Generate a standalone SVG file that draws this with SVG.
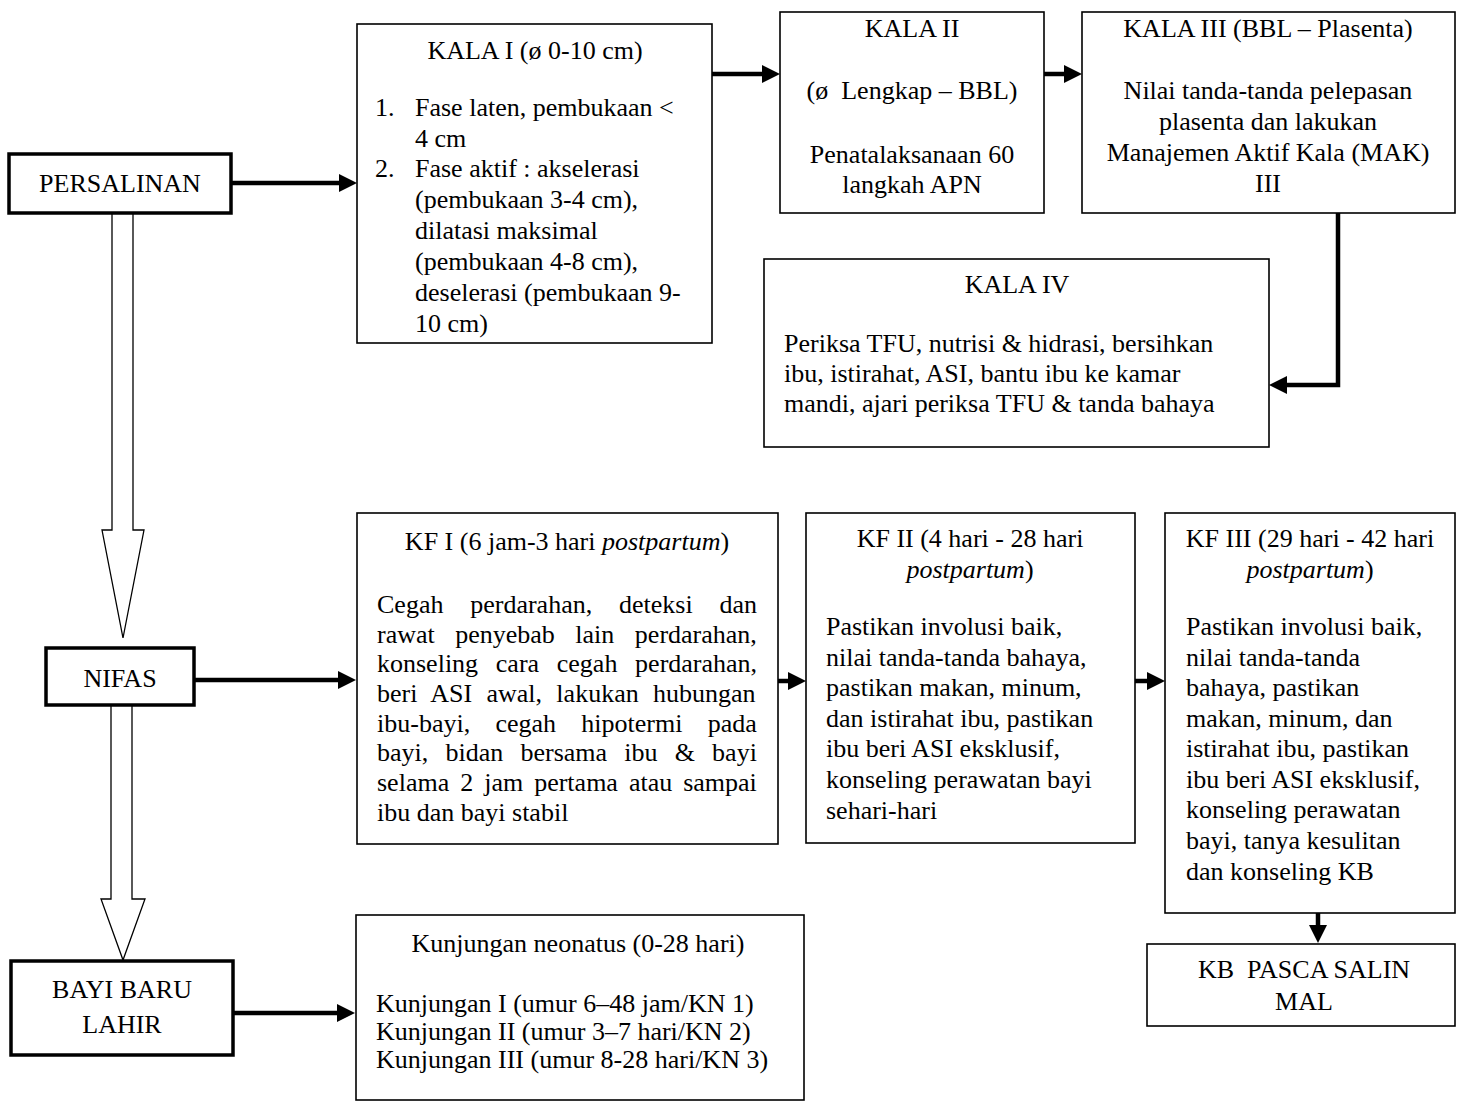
<svg xmlns="http://www.w3.org/2000/svg" width="1459" height="1104" viewBox="0 0 1459 1104">
<defs>
<style>
text { font-family: "Liberation Serif", "Times New Roman", serif; font-size: 26px; fill: #000; }
.c { text-anchor: middle; }
.pre { white-space: pre; }
.it { font-style: italic; }
.box { fill: #fff; stroke: #000; stroke-width: 1.6; }
.tbox { fill: #fff; stroke: #000; stroke-width: 3.5; }
.conn { fill: none; stroke: #000; stroke-width: 4.5; }
.hollow { fill: #fff; stroke: #000; stroke-width: 1.3; stroke-linejoin: miter; }
</style>
<marker id="ah" markerUnits="userSpaceOnUse" markerWidth="18" markerHeight="18" viewBox="0 0 18 18" refX="1" refY="9" orient="auto">
<path d="M0,0 L18,9 L0,18 z" fill="#000"/>
</marker>
</defs>
<rect x="0" y="0" width="1459" height="1104" fill="#fff"/>

<g id="connectors">
<polygon class="hollow" points="112,212 133,212 133,530 144,530 123,638 102,530 112,530"/>
<polygon class="hollow" points="111,704 132,704 132,899 145,899 123,960 101,899 111,899"/>
<line class="conn" x1="231" y1="183" x2="340" y2="183" marker-end="url(#ah)"/>
<line class="conn" x1="712" y1="74" x2="763" y2="74" marker-end="url(#ah)"/>
<line class="conn" x1="1044" y1="74" x2="1065" y2="74" marker-end="url(#ah)"/>
<path class="conn" d="M1338,213 V385 H1286" marker-end="url(#ah)"/>
<line class="conn" x1="194" y1="680" x2="339" y2="680" marker-end="url(#ah)"/>
<line class="conn" x1="778" y1="681" x2="789" y2="681" marker-end="url(#ah)"/>
<line class="conn" x1="1135" y1="681" x2="1148" y2="681" marker-end="url(#ah)"/>
<line class="conn" x1="1318" y1="913" x2="1318" y2="926" marker-end="url(#ah)"/>
<line class="conn" x1="233" y1="1013" x2="338" y2="1013" marker-end="url(#ah)"/>
</g>

<g id="persalinan">
<rect class="tbox" x="9" y="154" width="222" height="59"/>
<text class="c" x="120" y="192">PERSALINAN</text>
</g>

<g id="kala1">
<rect class="box" x="357" y="24" width="355" height="319"/>
<text class="c" x="535" y="59">KALA I (ø 0-10 cm)</text>
<text x="375" y="116">1.</text>
<text x="415" y="116">Fase laten, pembukaan &lt;</text>
<text x="415" y="147">4 cm</text>
<text x="375" y="177">2.</text>
<text x="415" y="177">Fase aktif : akselerasi</text>
<text x="415" y="208">(pembukaan 3-4 cm),</text>
<text x="415" y="239">dilatasi maksimal</text>
<text x="415" y="270">(pembukaan 4-8 cm),</text>
<text x="415" y="301">deselerasi (pembukaan 9-</text>
<text x="415" y="332">10 cm)</text>
</g>

<g id="kala2">
<rect class="box" x="780" y="12" width="264" height="201"/>
<text class="c" x="912" y="37">KALA II</text>
<text class="c pre" x="912" y="99">(ø  Lengkap – BBL)</text>
<text class="c" x="912" y="163">Penatalaksanaan 60</text>
<text class="c" x="912" y="193">langkah APN</text>
</g>

<g id="kala3">
<rect class="box" x="1082" y="12" width="373" height="201"/>
<text class="c" x="1268" y="37">KALA III (BBL – Plasenta)</text>
<text class="c" x="1268" y="99">Nilai tanda-tanda pelepasan</text>
<text class="c" x="1268" y="130">plasenta dan lakukan</text>
<text class="c" x="1268" y="161">Manajemen Aktif Kala (MAK)</text>
<text class="c" x="1268" y="192">III</text>
</g>

<g id="kala4">
<rect class="box" x="764" y="259" width="505" height="188"/>
<text class="c" x="1017" y="293">KALA IV</text>
<text x="784" y="352">Periksa TFU, nutrisi &amp; hidrasi, bersihkan</text>
<text x="784" y="382">ibu, istirahat, ASI, bantu ibu ke kamar</text>
<text x="784" y="412">mandi, ajari periksa TFU &amp; tanda bahaya</text>
</g>

<g id="nifas">
<rect class="tbox" x="46" y="648" width="148" height="57"/>
<text class="c" x="120" y="687">NIFAS</text>
</g>

<g id="kf1">
<rect class="box" x="357" y="513" width="421" height="331"/>
<text class="c" x="567" y="550">KF I (6 jam-3 hari <tspan class="it">postpartum</tspan>)</text>
<text x="377" y="613" word-spacing="20.3">Cegah perdarahan, deteksi dan</text>
<text x="377" y="643" word-spacing="14">rawat penyebab lain perdarahan,</text>
<text x="377" y="672" word-spacing="11.2">konseling cara cegah perdarahan,</text>
<text x="377" y="702" word-spacing="7.8">beri ASI awal, lakukan hubungan</text>
<text x="377" y="732" word-spacing="18.8">ibu-bayi, cegah hipotermi pada</text>
<text x="377" y="761" word-spacing="10.7">bayi, bidan bersama ibu &amp; bayi</text>
<text x="377" y="791" word-spacing="4.5">selama 2 jam pertama atau sampai</text>
<text x="377" y="821">ibu dan bayi stabil</text>
</g>

<g id="kf2">
<rect class="box" x="806" y="513" width="329" height="330"/>
<text class="c" x="970" y="547">KF II (4 hari - 28 hari</text>
<text class="c" x="970" y="578"><tspan class="it">postpartum</tspan>)</text>
<text x="826" y="635">Pastikan involusi baik,</text>
<text x="826" y="666">nilai tanda-tanda bahaya,</text>
<text x="826" y="696">pastikan makan, minum,</text>
<text x="826" y="727">dan istirahat ibu, pastikan</text>
<text x="826" y="757">ibu beri ASI eksklusif,</text>
<text x="826" y="788">konseling perawatan bayi</text>
<text x="826" y="819">sehari-hari</text>
</g>

<g id="kf3">
<rect class="box" x="1165" y="513" width="290" height="400"/>
<text class="c" x="1310" y="547">KF III (29 hari - 42 hari</text>
<text class="c" x="1310" y="578"><tspan class="it">postpartum</tspan>)</text>
<text x="1186" y="635">Pastikan involusi baik,</text>
<text x="1186" y="666">nilai tanda-tanda</text>
<text x="1186" y="696">bahaya, pastikan</text>
<text x="1186" y="727">makan, minum, dan</text>
<text x="1186" y="757">istirahat ibu, pastikan</text>
<text x="1186" y="788">ibu beri ASI eksklusif,</text>
<text x="1186" y="818">konseling perawatan</text>
<text x="1186" y="849">bayi, tanya kesulitan</text>
<text x="1186" y="880">dan konseling KB</text>
</g>

<g id="kb">
<rect class="box" x="1147" y="944" width="308" height="82"/>
<text class="c pre" x="1304" y="978">KB  PASCA SALIN</text>
<text class="c" x="1304" y="1010">MAL</text>
</g>

<g id="bbl">
<rect class="tbox" x="11" y="961" width="222" height="94"/>
<text class="c" x="122" y="998">BAYI BARU</text>
<text class="c" x="122" y="1033">LAHIR</text>
</g>

<g id="neonatus">
<rect class="box" x="356" y="915" width="448" height="185"/>
<text class="c" x="578" y="952">Kunjungan neonatus (0-28 hari)</text>
<text x="376" y="1012">Kunjungan I (umur 6–48 jam/KN 1)</text>
<text x="376" y="1040">Kunjungan II (umur 3–7 hari/KN 2)</text>
<text x="376" y="1068">Kunjungan III (umur 8-28 hari/KN 3)</text>
</g>
</svg>
